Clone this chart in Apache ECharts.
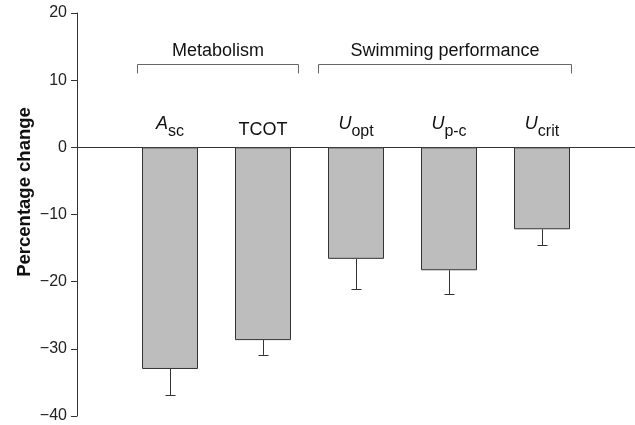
<!DOCTYPE html>
<html>
<head>
<meta charset="utf-8">
<script src="https://cdn.jsdelivr.net/npm/echarts@6/dist/echarts.min.js"></script>
<style>html,body{margin:0;padding:0;background:#fff;}#chart{width:635px;height:425px;}</style>
</head>
<body>
<div id="chart"></div>
<script>
// ---- data ----
var catMain = ['A', 'TCOT', 'U', 'U', 'U'];
var catSub = ['sc', '', 'opt', 'p-c', 'crit'];
var meanValues = [-33.0, -28.7, -16.6, -18.3, -12.2];
var errorValues = [-36.9, -30.9, -21.1, -21.9, -14.6];
var groupNames = ['Metabolism', 'Swimming performance'];
var groupStart = [1, 3];
var groupEnd = [2, 5];
var yTicks = [20, 10, 0, -10, -20, -30, -40];

// ---- build ----
var FONT = '"Liberation Sans", Arial, Helvetica, sans-serif';
var categories = [''];
for (var i = 0; i < catMain.length; i++) categories.push(catMain[i] + catSub[i]);
categories.push('');
var barData = [null].concat(meanValues).concat([null]);
var errData = meanValues.map(function (v, i) { return [i + 1, v, errorValues[i]]; });
var labelData = catMain.map(function (m, i) { return [i + 1, 0, i]; });
var groupData = groupNames.map(function (n, i) { return [groupStart[i], groupEnd[i], i]; });

// bracket style offsets (pixels) relative to bar edges
var bracketOffsets = [[-5.5, 6.5], [-10.5, 0.5]];
var BAR_W = 56;

var chart = echarts.init(document.getElementById('chart'), null, {renderer: 'canvas'});
chart.setOption({
  animation: false,
  backgroundColor: '#ffffff',
  grid: {left: 77, right: 0, top: 13, bottom: 9, containLabel: false, outerBoundsMode: 'none'},
  xAxis: {
    type: 'category',
    data: categories,
    boundaryGap: false,
    position: 'bottom',
    axisLine: {onZero: true, lineStyle: {color: '#333', width: 1}},
    axisTick: {show: false},
    splitLine: {show: false},
    axisLabel: {show: false}
  },
  yAxis: {
    type: 'value',
    min: -40, max: 20, interval: 10,
    name: 'Percentage change',
    nameLocation: 'middle',
    nameGap: 43,
    nameRotate: 90,
    nameMoveOverlap: false,
    nameTextStyle: {fontFamily: FONT, fontSize: 18.5, fontWeight: 'bold', color: '#111', padding: [0, 0, 0, 45]},
    axisLine: {show: true, lineStyle: {color: '#333', width: 1}},
    axisTick: {show: true, length: 6, lineStyle: {color: '#333'}},
    splitLine: {show: false},
    axisLabel: {
      fontFamily: FONT, fontSize: 16, color: '#222', margin: 10,
      formatter: function (v) { return String(v).replace('-', '\u2212'); }
    }
  },
  series: [
    {
      type: 'bar',
      data: barData,
      barWidth: BAR_W,
      itemStyle: {color: '#bdbdbd', borderColor: '#333', borderWidth: 1},
      silent: true
    },
    {
      type: 'custom',
      data: errData,
      silent: true,
      renderItem: function (params, api) {
        var top = api.coord([api.value(0), api.value(1)]);
        var bot = api.coord([api.value(0), api.value(2)]);
        var x = Math.round(top[0]) + 0.5;
        var half = 5;
        return {
          type: 'group',
          children: [
            {type: 'line', shape: {x1: x, y1: top[1], x2: x, y2: bot[1]}, style: {stroke: '#333', lineWidth: 1}},
            {type: 'line', shape: {x1: x - half, y1: Math.round(bot[1]) + 0.5, x2: x + half, y2: Math.round(bot[1]) + 0.5}, style: {stroke: '#333', lineWidth: 1}}
          ]
        };
      }
    },
    {
      type: 'custom',
      data: labelData,
      silent: true,
      renderItem: function (params, api) {
        var idx = api.value(2);
        var p = api.coord([api.value(0), api.value(1)]);
        var txt = catSub[idx] ? '{m|' + catMain[idx] + '}{s|' + catSub[idx] + '}' : '{p|' + catMain[idx] + '}';
        return {
          type: 'text',
          x: p[0],
          y: p[1] - 8,
          style: {
            text: txt,
            align: 'center',
            verticalAlign: 'bottom',
            rich: {
              m: {fontFamily: FONT, fontSize: 18, fontStyle: 'italic', fill: '#111', verticalAlign: 'bottom', padding: [0, 0, 6, 0]},
              s: {fontFamily: FONT, fontSize: 16, fill: '#111', verticalAlign: 'bottom'},
              p: {fontFamily: FONT, fontSize: 18, fill: '#111', verticalAlign: 'bottom'}
            }
          }
        };
      }
    },
    {
      type: 'custom',
      data: groupData,
      silent: true,
      renderItem: function (params, api) {
        var gi = api.value(2);
        var off = bracketOffsets[gi];
        var p1 = api.coord([api.value(0), 12.45]);
        var p2 = api.coord([api.value(1), 12.45]);
        var pt = api.coord([api.value(0), 11.0]);
        var x1 = Math.round(p1[0] - BAR_W / 2 + off[0]) + 0.5;
        var x2 = Math.round(p2[0] + BAR_W / 2 + off[1]) + 0.5;
        var y = Math.round(p1[1]) + 0.5;
        var yb = pt[1];
        return {
          type: 'group',
          children: [
            {type: 'polyline', shape: {points: [[x1, yb], [x1, y], [x2, y], [x2, yb]]}, style: {stroke: '#666', lineWidth: 1, fill: null}},
            {type: 'text', x: (x1 + x2) / 2, y: y - 13.5, style: {text: groupNames[gi], fontFamily: FONT, fontSize: 18, fill: '#111', align: 'center', verticalAlign: 'middle'}}
          ]
        };
      }
    }
  ]
});
</script>
</body>
</html>
